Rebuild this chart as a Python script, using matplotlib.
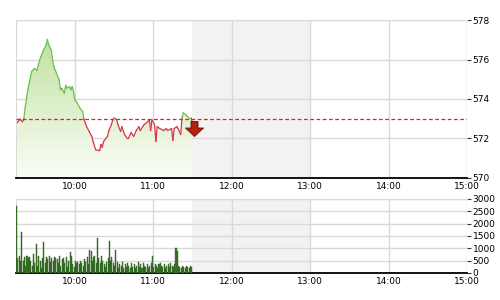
import matplotlib
matplotlib.use("Agg")
import matplotlib.pyplot as plt
import numpy as np
from matplotlib.path import Path
from matplotlib.colors import LinearSegmentedColormap

# price series (time, index value)
price_times = ["9:16", "9:18", "9:20", "9:21", "9:22", "9:24", "9:26", "9:27", "9:29", "9:31",
               "9:33", "9:34", "9:36", "9:38", "9:39", "9:40", "9:42", "9:43", "9:44", "9:45",
               "9:47", "9:48", "9:49", "9:50", "9:52", "9:53", "9:54", "9:56", "9:57", "9:58",
               "9:59", "10:00", "10:02", "10:04", "10:06", "10:07", "10:09", "10:11", "10:13", "10:14",
               "10:16", "10:18", "10:19", "10:20", "10:21", "10:22", "10:25", "10:26", "10:28", "10:29",
               "10:30", "10:32", "10:33", "10:35", "10:36", "10:38", "10:40", "10:41", "10:43", "10:45",
               "10:47", "10:49", "10:50", "10:52", "10:53", "10:55", "10:57", "10:58", "10:59", "11:01",
               "11:02", "11:03", "11:05", "11:08", "11:10", "11:11", "11:14", "11:15", "11:16", "11:18",
               "11:19", "11:21", "11:22", "11:23", "11:25", "11:27", "11:29", "11:30"]
price_vals = [572.8, 572.98, 572.85, 573.0, 573.55, 574.45, 575.1, 575.4, 575.55, 575.45,
              575.97, 576.14, 576.48, 576.73, 577.02, 576.75, 576.48, 575.97, 575.64, 575.47,
              575.13, 574.96, 574.46, 574.55, 574.29, 574.7, 574.55, 574.63, 574.46, 574.63,
              574.38, 573.95, 573.78, 573.53, 573.36, 572.97, 572.6, 572.35, 572.1, 571.84,
              571.42, 571.4, 571.38, 571.7, 571.55, 571.85, 572.1, 572.4, 572.7, 572.95,
              573.05, 572.95, 572.7, 572.35, 572.6, 572.2, 572.0, 572.0, 572.3, 572.1,
              572.4, 572.6, 572.4, 572.6, 572.7, 572.8, 572.95, 572.4, 572.95, 572.7,
              571.85, 572.6, 572.5, 572.4, 572.5, 572.4, 572.5, 571.9, 572.5, 572.6,
              572.5, 572.2, 573.05, 573.3, 573.2, 573.05, 573.05, 572.75]
ref_price = 573.0

# volume per minute from 9:15
vol_start = "9:15"
volumes = [2700, 600, 700, 500, 1650, 500, 650, 300, 700, 600,
           650, 500, 300, 750, 400, 1170, 300, 700, 500, 200,
           600, 1270, 400, 650, 550, 700, 450, 600, 500, 650,
           600, 550, 400, 700, 300, 550, 600, 400, 650, 250,
           500, 850, 700, 350, 250, 500, 400, 450, 350, 500,
           400, 300, 550, 450, 650, 350, 930, 900, 500, 650,
           700, 400, 1420, 600, 400, 700, 500, 350, 250, 450,
           600, 1300, 500, 650, 400, 300, 930, 450, 200, 350,
           300, 450, 200, 350, 250, 400, 300, 200, 400, 250,
           350, 200, 300, 450, 250, 350, 200, 400, 300, 250,
           350, 200, 300, 400, 700, 250, 350, 300, 200, 350,
           400, 300, 250, 350, 200, 300, 350, 250, 400, 300,
           250, 350, 1000, 900, 300, 250, 200, 300, 250, 200,
           300, 250, 200, 300, 250]

hour_ticks = [10, 11, 12, 13, 14, 15]
price_ticks = [570, 572, 574, 576, 578]
vol_ticks = [0, 500, 1000, 1500, 2000, 2500, 3000]


def to_hours(s):
    h, m = s.split(":")
    return int(h) + int(m) / 60.0


t = np.array([to_hours(s) for s in price_times])
p = np.array(price_vals)
vt = to_hours(vol_start) + np.arange(len(volumes)) / 60.0

GRID = "#d9d9d9"
SHADE = "#f2f2f2"
GREEN = "#6cbf4f"
RED = "#d8344c"

fig = plt.figure(figsize=(5, 3), dpi=100)
ax1 = fig.add_axes([0.032, 0.407, 0.902, 0.526])
ax2 = fig.add_axes([0.032, 0.09, 0.902, 0.247])

for ax in (ax1, ax2):
    ax.set_xlim(9.25, 15.0)
    ax.axvspan(11.5, 13.0, color=SHADE, zorder=0.2, lw=0)
    ax.set_axisbelow(True)
    ax.grid(True, color=GRID, lw=1)
    ax.set_xticks(hour_ticks)
    ax.set_xticklabels(["%d:00" % h for h in hour_ticks], fontsize=6.5)
    ax.tick_params(axis="x", length=0, pad=3)
    ax.yaxis.tick_right()
    ax.tick_params(axis="y", length=3, width=0.8, pad=1, labelsize=6.5, color="#333333")
    ax.spines["right"].set_visible(False)
    ax.spines["left"].set_color(GRID)
    ax.spines["top"].set_color(GRID)
    ax.spines["bottom"].set_color("black")
    ax.spines["bottom"].set_linewidth(1.3)

# gradient fill under price
ax1.set_ylim(570, 578)
ax1.set_yticks(price_ticks)
cmap = LinearSegmentedColormap.from_list("g", ["#fbfdf8", "#b8de94"])
grad = np.linspace(0, 1, 256).reshape(-1, 1)
img = ax1.imshow(grad, cmap=cmap, origin="lower", aspect="auto",
                 extent=[t[0], t[-1], 570, 578], zorder=1)
poly = ax1.fill_between(t, p, 570, color="none", lw=0)
img.set_clip_path(poly.get_paths()[0], transform=ax1.transData)

# price line coloured above / below reference
xs, ys = [t[0]], [p[0]]
for i in range(1, len(t)):
    a, b = p[i - 1] - ref_price, p[i] - ref_price
    if a * b < 0:
        f = a / (a - b)
        xs.append(t[i - 1] + f * (t[i] - t[i - 1]))
        ys.append(ref_price)
    xs.append(t[i])
    ys.append(p[i])
xs, ys = np.array(xs), np.array(ys)
for i in range(1, len(xs)):
    mid = (ys[i] + ys[i - 1]) / 2
    ax1.plot(xs[i - 1:i + 1], ys[i - 1:i + 1], color=GREEN if mid >= ref_price else RED,
             lw=0.9, zorder=3, solid_capstyle="round")

ax1.axhline(ref_price, color="#ee1c1c", lw=0.9, ls=(0, (3, 2)), zorder=4)

arrow = Path([(-0.35, 0.7), (0.35, 0.7), (0.35, 0.05), (0.9, 0.05), (0, -0.8),
              (-0.9, 0.05), (-0.35, 0.05), (-0.35, 0.7)],
             [Path.MOVETO] + [Path.LINETO] * 6 + [Path.CLOSEPOLY])
ax1.plot([t[-1] + 1.5 / 60], [572.55], marker=arrow, markersize=13,
         color="#b3200e", markeredgecolor="#6e1005", markeredgewidth=0.6, zorder=5)

# volume bars
ax2.set_ylim(0, 3000)
ax2.set_yticks(vol_ticks)
ax2.bar(vt, volumes, width=0.8 / 60, align="edge", color="#3c7a2a",
        edgecolor="#2a5a1c", lw=0.3, zorder=3)

fig.savefig("out.png", dpi=100)
